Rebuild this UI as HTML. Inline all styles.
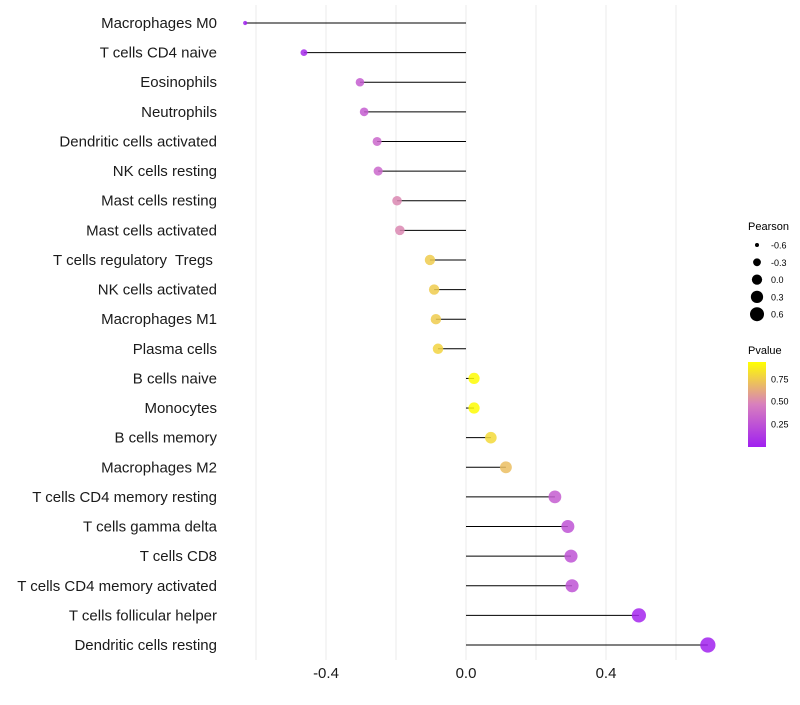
<!DOCTYPE html>
<html><head><meta charset="utf-8"><style>
body{margin:0;background:#fff;font-family:"Liberation Sans",sans-serif}
text{white-space:pre}
</style></head><body>
<svg id="c" width="800" height="700" xmlns="http://www.w3.org/2000/svg">
<defs><linearGradient id="pg" x1="0" y1="1" x2="0" y2="0">
<stop offset="0" stop-color="#a020f0"/><stop offset="0.5" stop-color="#d87fbe"/><stop offset="1" stop-color="#ffff00"/></linearGradient></defs>
<g id="grid"></g><g id="marks"></g><g id="labels"></g><g id="legend"></g>
</svg>
<script>
const categories=["Macrophages M0","T cells CD4 naive","Eosinophils","Neutrophils","Dendritic cells activated","NK cells resting","Mast cells resting","Mast cells activated","T cells regulatory  Tregs ","NK cells activated","Macrophages M1","Plasma cells","B cells naive","Monocytes","B cells memory","Macrophages M2","T cells CD4 memory resting","T cells gamma delta","T cells CD8","T cells CD4 memory activated","T cells follicular helper","Dendritic cells resting"];
const pearson=[-0.631,-0.463,-0.303,-0.291,-0.254,-0.251,-0.197,-0.189,-0.103,-0.091,-0.086,-0.080,0.023,0.023,0.071,0.114,0.254,0.291,0.300,0.303,0.494,0.691];
const pvalue=[0.01,0.05,0.3,0.3,0.35,0.35,0.5,0.5,0.75,0.75,0.75,0.78,0.93,0.93,0.8,0.7,0.3,0.25,0.25,0.25,0.03,0.01];
const xTicks=[-0.4,0.0,0.4];
const xGrid=[-0.6,-0.4,-0.2,0,0.2,0.4,0.6];
const sizeLegend=[-0.6,-0.3,0.0,0.3,0.6];
const NS="http://www.w3.org/2000/svg";
const x=v=>466+v*350;
const y=i=>23+i*(622/21);
const r=v=>Math.sqrt(Math.max(1,26.5+37.5*v));
function col(p){const t=Math.max(0,Math.min(1,p/0.94));
 const a=[[160,32,240],[216,127,190],[255,255,0]];let s,u;
 if(t<0.5){s=a[0];u=a[1];}else{s=a[1];u=a[2];}
 const k=t<0.5?t*2:(t-0.5)*2;
 return `rgb(${s.map((c,j)=>Math.round(c+(u[j]-c)*k)).join(',')})`;}
function el(tag,attrs,parent,txt){const e=document.createElementNS(NS,tag);for(const k in attrs)e.setAttribute(k,attrs[k]);if(txt!==undefined)e.textContent=txt;document.getElementById(parent).appendChild(e);return e;}
xGrid.forEach(v=>{const g=el('line',{x1:x(v),x2:x(v),y1:5,y2:660,stroke:'#ebebeb','stroke-width':1},'grid');

});
categories.forEach((c,i)=>{
 const l=el('line',{x1:x(0),x2:x(pearson[i]),y1:y(i),y2:y(i),stroke:'#000','stroke-width':1},'marks');
 
 
 const p=el('circle',{cx:x(pearson[i]),cy:y(i),r:r(pearson[i])+0.4,fill:col(pvalue[i]),'fill-opacity':0.85},'marks');
 
 
 const t=el('text',{x:217,y:y(i)+5,'text-anchor':'end','font-size':15,fill:'#1a1a1a'},'labels',c);
 
 
});
xTicks.forEach(v=>{const t=el('text',{x:x(v),y:678,'text-anchor':'middle','font-size':15,fill:'#1a1a1a'},'labels',v.toFixed(1));

});
let t=el('text',{x:748,y:230,'font-size':11,fill:'#000'},'legend','Pearson');


sizeLegend.forEach((v,i)=>{const cy=245+i*17.3;
 const c=el('circle',{cx:757,cy:cy,r:r(v),fill:'#000'},'legend');
 
 
 const tt=el('text',{x:771,y:cy+3.5,'font-size':9,fill:'#000'},'legend',v.toFixed(1));
 
 });
t=el('text',{x:748,y:354,'font-size':11,fill:'#000'},'legend','Pvalue');


const bar=el('rect',{x:748,y:362,width:18,height:85,fill:'url(#pg)'},'legend');


[[0.75,379],[0.50,401],[0.25,424]].forEach(([v,yy])=>{
 const tt=el('text',{x:771,y:yy+3.5,'font-size':9,fill:'#000'},'legend',v.toFixed(2));
 
 });
</script>
</body></html>
